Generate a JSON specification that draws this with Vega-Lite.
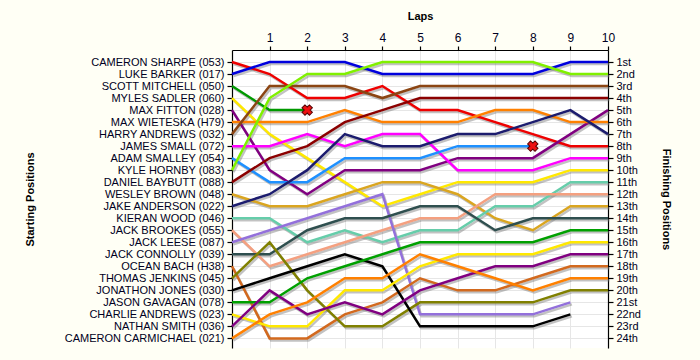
{
"$schema": "https://vega.github.io/schema/vega-lite/v6.json",
"width": 376, "height": 298,
"autosize": "none",
"padding": {"left": 232, "top": 50, "right": 92, "bottom": 12},
"background": "#FFFFF5",
"config": {
  "view": {"fill": "white", "stroke": null},
  "font": "Liberation Sans",
  "axis": {"domainColor": "#000000", "tickColor": "#000000", "labelColor": "#000022", "labelFontSize": 11, "titleFontSize": 11, "titleFontWeight": "bold", "titleColor": "#000000", "tickSize": 5, "labelPadding": 3, "gridColor": "#E6E6E6", "domainWidth": 1.2, "tickWidth": 1.2}
},
"datasets": {
  "laps": [
{"driver":"CAMERON SHARPE (053)","lap":0,"pos":1},{"driver":"CAMERON SHARPE (053)","lap":1,"pos":2},{"driver":"CAMERON SHARPE (053)","lap":2,"pos":4},{"driver":"CAMERON SHARPE (053)","lap":3,"pos":4},{"driver":"CAMERON SHARPE (053)","lap":4,"pos":3},{"driver":"CAMERON SHARPE (053)","lap":5,"pos":5},{"driver":"CAMERON SHARPE (053)","lap":6,"pos":5},{"driver":"CAMERON SHARPE (053)","lap":7,"pos":6},{"driver":"CAMERON SHARPE (053)","lap":8,"pos":7},{"driver":"CAMERON SHARPE (053)","lap":9,"pos":8},{"driver":"CAMERON SHARPE (053)","lap":10,"pos":8},
{"driver":"LUKE BARKER (017)","lap":0,"pos":2},{"driver":"LUKE BARKER (017)","lap":1,"pos":1},{"driver":"LUKE BARKER (017)","lap":2,"pos":1},{"driver":"LUKE BARKER (017)","lap":3,"pos":1},{"driver":"LUKE BARKER (017)","lap":4,"pos":2},{"driver":"LUKE BARKER (017)","lap":5,"pos":2},{"driver":"LUKE BARKER (017)","lap":6,"pos":2},{"driver":"LUKE BARKER (017)","lap":7,"pos":2},{"driver":"LUKE BARKER (017)","lap":8,"pos":2},{"driver":"LUKE BARKER (017)","lap":9,"pos":1},{"driver":"LUKE BARKER (017)","lap":10,"pos":1},
{"driver":"SCOTT MITCHELL (050)","lap":0,"pos":3},{"driver":"SCOTT MITCHELL (050)","lap":1,"pos":5},{"driver":"SCOTT MITCHELL (050)","lap":2,"pos":5},
{"driver":"MYLES SADLER (060)","lap":0,"pos":4},{"driver":"MYLES SADLER (060)","lap":1,"pos":7},{"driver":"MYLES SADLER (060)","lap":2,"pos":9},{"driver":"MYLES SADLER (060)","lap":3,"pos":11},{"driver":"MYLES SADLER (060)","lap":4,"pos":13},{"driver":"MYLES SADLER (060)","lap":5,"pos":12},{"driver":"MYLES SADLER (060)","lap":6,"pos":11},{"driver":"MYLES SADLER (060)","lap":7,"pos":11},{"driver":"MYLES SADLER (060)","lap":8,"pos":11},{"driver":"MYLES SADLER (060)","lap":9,"pos":10},{"driver":"MYLES SADLER (060)","lap":10,"pos":10},
{"driver":"MAX FITTON (028)","lap":0,"pos":5},{"driver":"MAX FITTON (028)","lap":1,"pos":10},{"driver":"MAX FITTON (028)","lap":2,"pos":12},{"driver":"MAX FITTON (028)","lap":3,"pos":10},{"driver":"MAX FITTON (028)","lap":4,"pos":10},{"driver":"MAX FITTON (028)","lap":5,"pos":10},{"driver":"MAX FITTON (028)","lap":6,"pos":9},{"driver":"MAX FITTON (028)","lap":7,"pos":9},{"driver":"MAX FITTON (028)","lap":8,"pos":9},{"driver":"MAX FITTON (028)","lap":9,"pos":7},{"driver":"MAX FITTON (028)","lap":10,"pos":5},
{"driver":"MAX WIETESKA (H79)","lap":0,"pos":6},{"driver":"MAX WIETESKA (H79)","lap":1,"pos":6},{"driver":"MAX WIETESKA (H79)","lap":2,"pos":6},{"driver":"MAX WIETESKA (H79)","lap":3,"pos":5},{"driver":"MAX WIETESKA (H79)","lap":4,"pos":6},{"driver":"MAX WIETESKA (H79)","lap":5,"pos":6},{"driver":"MAX WIETESKA (H79)","lap":6,"pos":6},{"driver":"MAX WIETESKA (H79)","lap":7,"pos":5},{"driver":"MAX WIETESKA (H79)","lap":8,"pos":5},{"driver":"MAX WIETESKA (H79)","lap":9,"pos":6},{"driver":"MAX WIETESKA (H79)","lap":10,"pos":6},
{"driver":"HARRY ANDREWS (032)","lap":0,"pos":7},{"driver":"HARRY ANDREWS (032)","lap":1,"pos":3},{"driver":"HARRY ANDREWS (032)","lap":2,"pos":3},{"driver":"HARRY ANDREWS (032)","lap":3,"pos":3},{"driver":"HARRY ANDREWS (032)","lap":4,"pos":4},{"driver":"HARRY ANDREWS (032)","lap":5,"pos":3},{"driver":"HARRY ANDREWS (032)","lap":6,"pos":3},{"driver":"HARRY ANDREWS (032)","lap":7,"pos":3},{"driver":"HARRY ANDREWS (032)","lap":8,"pos":3},{"driver":"HARRY ANDREWS (032)","lap":9,"pos":3},{"driver":"HARRY ANDREWS (032)","lap":10,"pos":3},
{"driver":"JAMES SMALL (072)","lap":0,"pos":8},{"driver":"JAMES SMALL (072)","lap":1,"pos":8},{"driver":"JAMES SMALL (072)","lap":2,"pos":7},{"driver":"JAMES SMALL (072)","lap":3,"pos":8},{"driver":"JAMES SMALL (072)","lap":4,"pos":7},{"driver":"JAMES SMALL (072)","lap":5,"pos":7},{"driver":"JAMES SMALL (072)","lap":6,"pos":10},{"driver":"JAMES SMALL (072)","lap":7,"pos":10},{"driver":"JAMES SMALL (072)","lap":8,"pos":10},{"driver":"JAMES SMALL (072)","lap":9,"pos":9},{"driver":"JAMES SMALL (072)","lap":10,"pos":9},
{"driver":"ADAM SMALLEY (054)","lap":0,"pos":9},{"driver":"ADAM SMALLEY (054)","lap":1,"pos":11},{"driver":"ADAM SMALLEY (054)","lap":2,"pos":11},{"driver":"ADAM SMALLEY (054)","lap":3,"pos":9},{"driver":"ADAM SMALLEY (054)","lap":4,"pos":9},{"driver":"ADAM SMALLEY (054)","lap":5,"pos":9},{"driver":"ADAM SMALLEY (054)","lap":6,"pos":8},{"driver":"ADAM SMALLEY (054)","lap":7,"pos":8},{"driver":"ADAM SMALLEY (054)","lap":8,"pos":8},
{"driver":"KYLE HORNBY (083)","lap":0,"pos":10},{"driver":"KYLE HORNBY (083)","lap":1,"pos":4},{"driver":"KYLE HORNBY (083)","lap":2,"pos":2},{"driver":"KYLE HORNBY (083)","lap":3,"pos":2},{"driver":"KYLE HORNBY (083)","lap":4,"pos":1},{"driver":"KYLE HORNBY (083)","lap":5,"pos":1},{"driver":"KYLE HORNBY (083)","lap":6,"pos":1},{"driver":"KYLE HORNBY (083)","lap":7,"pos":1},{"driver":"KYLE HORNBY (083)","lap":8,"pos":1},{"driver":"KYLE HORNBY (083)","lap":9,"pos":2},{"driver":"KYLE HORNBY (083)","lap":10,"pos":2},
{"driver":"DANIEL BAYBUTT (088)","lap":0,"pos":11},{"driver":"DANIEL BAYBUTT (088)","lap":1,"pos":9},{"driver":"DANIEL BAYBUTT (088)","lap":2,"pos":8},{"driver":"DANIEL BAYBUTT (088)","lap":3,"pos":6},{"driver":"DANIEL BAYBUTT (088)","lap":4,"pos":5},{"driver":"DANIEL BAYBUTT (088)","lap":5,"pos":4},{"driver":"DANIEL BAYBUTT (088)","lap":6,"pos":4},{"driver":"DANIEL BAYBUTT (088)","lap":7,"pos":4},{"driver":"DANIEL BAYBUTT (088)","lap":8,"pos":4},{"driver":"DANIEL BAYBUTT (088)","lap":9,"pos":4},{"driver":"DANIEL BAYBUTT (088)","lap":10,"pos":4},
{"driver":"WESLEY BROWN (048)","lap":0,"pos":12},{"driver":"WESLEY BROWN (048)","lap":1,"pos":13},{"driver":"WESLEY BROWN (048)","lap":2,"pos":13},{"driver":"WESLEY BROWN (048)","lap":3,"pos":12},{"driver":"WESLEY BROWN (048)","lap":4,"pos":11},{"driver":"WESLEY BROWN (048)","lap":5,"pos":11},{"driver":"WESLEY BROWN (048)","lap":6,"pos":12},{"driver":"WESLEY BROWN (048)","lap":7,"pos":14},{"driver":"WESLEY BROWN (048)","lap":8,"pos":15},{"driver":"WESLEY BROWN (048)","lap":9,"pos":13},{"driver":"WESLEY BROWN (048)","lap":10,"pos":13},
{"driver":"JAKE ANDERSON (022)","lap":0,"pos":13},{"driver":"JAKE ANDERSON (022)","lap":1,"pos":12},{"driver":"JAKE ANDERSON (022)","lap":2,"pos":10},{"driver":"JAKE ANDERSON (022)","lap":3,"pos":7},{"driver":"JAKE ANDERSON (022)","lap":4,"pos":8},{"driver":"JAKE ANDERSON (022)","lap":5,"pos":8},{"driver":"JAKE ANDERSON (022)","lap":6,"pos":7},{"driver":"JAKE ANDERSON (022)","lap":7,"pos":7},{"driver":"JAKE ANDERSON (022)","lap":8,"pos":6},{"driver":"JAKE ANDERSON (022)","lap":9,"pos":5},{"driver":"JAKE ANDERSON (022)","lap":10,"pos":7},
{"driver":"KIERAN WOOD (046)","lap":0,"pos":14},{"driver":"KIERAN WOOD (046)","lap":1,"pos":14},{"driver":"KIERAN WOOD (046)","lap":2,"pos":16},{"driver":"KIERAN WOOD (046)","lap":3,"pos":15},{"driver":"KIERAN WOOD (046)","lap":4,"pos":16},{"driver":"KIERAN WOOD (046)","lap":5,"pos":15},{"driver":"KIERAN WOOD (046)","lap":6,"pos":15},{"driver":"KIERAN WOOD (046)","lap":7,"pos":13},{"driver":"KIERAN WOOD (046)","lap":8,"pos":13},{"driver":"KIERAN WOOD (046)","lap":9,"pos":11},{"driver":"KIERAN WOOD (046)","lap":10,"pos":11},
{"driver":"JACK BROOKES (055)","lap":0,"pos":15},{"driver":"JACK BROOKES (055)","lap":1,"pos":18},{"driver":"JACK BROOKES (055)","lap":2,"pos":17},{"driver":"JACK BROOKES (055)","lap":3,"pos":16},{"driver":"JACK BROOKES (055)","lap":4,"pos":15},{"driver":"JACK BROOKES (055)","lap":5,"pos":14},{"driver":"JACK BROOKES (055)","lap":6,"pos":14},{"driver":"JACK BROOKES (055)","lap":7,"pos":12},{"driver":"JACK BROOKES (055)","lap":8,"pos":12},{"driver":"JACK BROOKES (055)","lap":9,"pos":12},{"driver":"JACK BROOKES (055)","lap":10,"pos":12},
{"driver":"JACK LEESE (087)","lap":0,"pos":16},{"driver":"JACK LEESE (087)","lap":1,"pos":15},{"driver":"JACK LEESE (087)","lap":2,"pos":14},{"driver":"JACK LEESE (087)","lap":3,"pos":13},{"driver":"JACK LEESE (087)","lap":4,"pos":12},{"driver":"JACK LEESE (087)","lap":5,"pos":22},{"driver":"JACK LEESE (087)","lap":6,"pos":22},{"driver":"JACK LEESE (087)","lap":7,"pos":22},{"driver":"JACK LEESE (087)","lap":8,"pos":22},{"driver":"JACK LEESE (087)","lap":9,"pos":21},
{"driver":"JACK CONNOLLY (039)","lap":0,"pos":17},{"driver":"JACK CONNOLLY (039)","lap":1,"pos":17},{"driver":"JACK CONNOLLY (039)","lap":2,"pos":15},{"driver":"JACK CONNOLLY (039)","lap":3,"pos":14},{"driver":"JACK CONNOLLY (039)","lap":4,"pos":14},{"driver":"JACK CONNOLLY (039)","lap":5,"pos":13},{"driver":"JACK CONNOLLY (039)","lap":6,"pos":13},{"driver":"JACK CONNOLLY (039)","lap":7,"pos":15},{"driver":"JACK CONNOLLY (039)","lap":8,"pos":14},{"driver":"JACK CONNOLLY (039)","lap":9,"pos":14},{"driver":"JACK CONNOLLY (039)","lap":10,"pos":14},
{"driver":"OCEAN BACH (H38)","lap":0,"pos":18},{"driver":"OCEAN BACH (H38)","lap":1,"pos":24},{"driver":"OCEAN BACH (H38)","lap":2,"pos":24},{"driver":"OCEAN BACH (H38)","lap":3,"pos":22},{"driver":"OCEAN BACH (H38)","lap":4,"pos":21},{"driver":"OCEAN BACH (H38)","lap":5,"pos":19},{"driver":"OCEAN BACH (H38)","lap":6,"pos":20},{"driver":"OCEAN BACH (H38)","lap":7,"pos":20},{"driver":"OCEAN BACH (H38)","lap":8,"pos":19},{"driver":"OCEAN BACH (H38)","lap":9,"pos":18},{"driver":"OCEAN BACH (H38)","lap":10,"pos":18},
{"driver":"THOMAS JENKINS (045)","lap":0,"pos":19},{"driver":"THOMAS JENKINS (045)","lap":1,"pos":16},{"driver":"THOMAS JENKINS (045)","lap":2,"pos":20},{"driver":"THOMAS JENKINS (045)","lap":3,"pos":23},{"driver":"THOMAS JENKINS (045)","lap":4,"pos":23},{"driver":"THOMAS JENKINS (045)","lap":5,"pos":21},{"driver":"THOMAS JENKINS (045)","lap":6,"pos":21},{"driver":"THOMAS JENKINS (045)","lap":7,"pos":21},{"driver":"THOMAS JENKINS (045)","lap":8,"pos":21},{"driver":"THOMAS JENKINS (045)","lap":9,"pos":20},{"driver":"THOMAS JENKINS (045)","lap":10,"pos":20},
{"driver":"JONATHON JONES (030)","lap":0,"pos":20},{"driver":"JONATHON JONES (030)","lap":1,"pos":19},{"driver":"JONATHON JONES (030)","lap":2,"pos":18},{"driver":"JONATHON JONES (030)","lap":3,"pos":17},{"driver":"JONATHON JONES (030)","lap":4,"pos":18},{"driver":"JONATHON JONES (030)","lap":5,"pos":23},{"driver":"JONATHON JONES (030)","lap":6,"pos":23},{"driver":"JONATHON JONES (030)","lap":7,"pos":23},{"driver":"JONATHON JONES (030)","lap":8,"pos":23},{"driver":"JONATHON JONES (030)","lap":9,"pos":22},
{"driver":"JASON GAVAGAN (078)","lap":0,"pos":21},{"driver":"JASON GAVAGAN (078)","lap":1,"pos":21},{"driver":"JASON GAVAGAN (078)","lap":2,"pos":19},{"driver":"JASON GAVAGAN (078)","lap":3,"pos":18},{"driver":"JASON GAVAGAN (078)","lap":4,"pos":17},{"driver":"JASON GAVAGAN (078)","lap":5,"pos":16},{"driver":"JASON GAVAGAN (078)","lap":6,"pos":16},{"driver":"JASON GAVAGAN (078)","lap":7,"pos":16},{"driver":"JASON GAVAGAN (078)","lap":8,"pos":16},{"driver":"JASON GAVAGAN (078)","lap":9,"pos":15},{"driver":"JASON GAVAGAN (078)","lap":10,"pos":15},
{"driver":"CHARLIE ANDREWS (023)","lap":0,"pos":22},{"driver":"CHARLIE ANDREWS (023)","lap":1,"pos":23},{"driver":"CHARLIE ANDREWS (023)","lap":2,"pos":23},{"driver":"CHARLIE ANDREWS (023)","lap":3,"pos":20},{"driver":"CHARLIE ANDREWS (023)","lap":4,"pos":20},{"driver":"CHARLIE ANDREWS (023)","lap":5,"pos":18},{"driver":"CHARLIE ANDREWS (023)","lap":6,"pos":17},{"driver":"CHARLIE ANDREWS (023)","lap":7,"pos":17},{"driver":"CHARLIE ANDREWS (023)","lap":8,"pos":17},{"driver":"CHARLIE ANDREWS (023)","lap":9,"pos":16},{"driver":"CHARLIE ANDREWS (023)","lap":10,"pos":16},
{"driver":"NATHAN SMITH (036)","lap":0,"pos":23},{"driver":"NATHAN SMITH (036)","lap":1,"pos":20},{"driver":"NATHAN SMITH (036)","lap":2,"pos":22},{"driver":"NATHAN SMITH (036)","lap":3,"pos":21},{"driver":"NATHAN SMITH (036)","lap":4,"pos":22},{"driver":"NATHAN SMITH (036)","lap":5,"pos":20},{"driver":"NATHAN SMITH (036)","lap":6,"pos":19},{"driver":"NATHAN SMITH (036)","lap":7,"pos":18},{"driver":"NATHAN SMITH (036)","lap":8,"pos":18},{"driver":"NATHAN SMITH (036)","lap":9,"pos":17},{"driver":"NATHAN SMITH (036)","lap":10,"pos":17},
{"driver":"CAMERON CARMICHAEL (021)","lap":0,"pos":24},{"driver":"CAMERON CARMICHAEL (021)","lap":1,"pos":22},{"driver":"CAMERON CARMICHAEL (021)","lap":2,"pos":21},{"driver":"CAMERON CARMICHAEL (021)","lap":3,"pos":19},{"driver":"CAMERON CARMICHAEL (021)","lap":4,"pos":19},{"driver":"CAMERON CARMICHAEL (021)","lap":5,"pos":17},{"driver":"CAMERON CARMICHAEL (021)","lap":6,"pos":18},{"driver":"CAMERON CARMICHAEL (021)","lap":7,"pos":19},{"driver":"CAMERON CARMICHAEL (021)","lap":8,"pos":20},{"driver":"CAMERON CARMICHAEL (021)","lap":9,"pos":19},{"driver":"CAMERON CARMICHAEL (021)","lap":10,"pos":19}
  ],
  "out": [
    {"driver":"SCOTT MITCHELL (050)","lap":2,"pos":5},
    {"driver":"ADAM SMALLEY (054)","lap":8,"pos":8}
  ]
},
"encoding": {
  "x": {"field": "lap", "type": "quantitative", "scale": {"domain": [0, 10], "nice": false, "zero": false},
        "axis": {"orient": "top", "title": "Laps", "values": [1,2,3,4,5,6,7,8,9,10], "tickSize": 4, "labelPadding": 2, "titlePadding": 10, "grid": true, "labelFontSize": 12, "labelFlush": false}}
},
"layer": [
  {
    "data": {"name": "laps"},
    "mark": {"type": "line", "strokeWidth": 2.5, "color": "#777777", "opacity": 0.45, "xOffset": 1.5, "yOffset": 2},
    "encoding": {
      "y": {"field": "pos", "type": "quantitative", "scale": {"domain": [0, 24.8], "reverse": true, "nice": false, "zero": false},
            "axis": {"orient": "left", "title": "Starting Positions", "titlePadding": 28, "values": [1,2,3,4,5,6,7,8,9,10,11,12,13,14,15,16,17,18,19,20,21,22,23,24], "grid": true,
                     "labelExpr": "['', 'CAMERON SHARPE (053)', 'LUKE BARKER (017)', 'SCOTT MITCHELL (050)', 'MYLES SADLER (060)', 'MAX FITTON (028)', 'MAX WIETESKA (H79)', 'HARRY ANDREWS (032)', 'JAMES SMALL (072)', 'ADAM SMALLEY (054)', 'KYLE HORNBY (083)', 'DANIEL BAYBUTT (088)', 'WESLEY BROWN (048)', 'JAKE ANDERSON (022)', 'KIERAN WOOD (046)', 'JACK BROOKES (055)', 'JACK LEESE (087)', 'JACK CONNOLLY (039)', 'OCEAN BACH (H38)', 'THOMAS JENKINS (045)', 'JONATHON JONES (030)', 'JASON GAVAGAN (078)', 'CHARLIE ANDREWS (023)', 'NATHAN SMITH (036)', 'CAMERON CARMICHAEL (021)'][datum.value]"}},
      "detail": {"field": "driver"}
    }
  },
  {
    "data": {"name": "laps"},
    "mark": {"type": "line", "strokeWidth": 2.5},
    "encoding": {
      "y": {"field": "pos", "type": "quantitative",
            "axis": {"orient": "right", "title": "Finishing Positions", "titlePadding": 20, "grid": false, "values": [1,2,3,4,5,6,7,8,9,10,11,12,13,14,15,16,17,18,19,20,21,22,23,24],
                     "labelExpr": "datum.value + ((datum.value % 10 == 1 && datum.value != 11) ? 'st' : (datum.value % 10 == 2 && datum.value != 12) ? 'nd' : (datum.value % 10 == 3 && datum.value != 13) ? 'rd' : 'th')"}},
      "color": {"field": "driver", "type": "nominal", "legend": null,
        "scale": {"domain": ["CAMERON SHARPE (053)","LUKE BARKER (017)","SCOTT MITCHELL (050)","MYLES SADLER (060)","MAX FITTON (028)","MAX WIETESKA (H79)","HARRY ANDREWS (032)","JAMES SMALL (072)","ADAM SMALLEY (054)","KYLE HORNBY (083)","DANIEL BAYBUTT (088)","WESLEY BROWN (048)","JAKE ANDERSON (022)","KIERAN WOOD (046)","JACK BROOKES (055)","JACK LEESE (087)","JACK CONNOLLY (039)","OCEAN BACH (H38)","THOMAS JENKINS (045)","JONATHON JONES (030)","JASON GAVAGAN (078)","CHARLIE ANDREWS (023)","NATHAN SMITH (036)","CAMERON CARMICHAEL (021)"],
                  "range": ["#EE0000","#0000DD","#009900","#FFE800","#800080","#FF8000","#8B4513","#FF00FF","#1E90FF","#80F000","#8B0000","#DAA520","#1C1C6E","#66CDAA","#F4A080","#9370DB","#2F4F4F","#D2691E","#808000","#000000","#00A000","#FFE800","#800080","#FF8000"]}}
    }
  },
  {
    "data": {"name": "out"},
    "mark": {"type": "point", "shape": "cross", "angle": 45, "filled": true, "fill": "#EE1111", "stroke": "#550000", "strokeWidth": 1, "size": 110, "opacity": 1},
    "encoding": {
      "y": {"field": "pos", "type": "quantitative", "axis": null}
    }
  }
],
"resolve": {"axis": {"y": "independent"}}
}
